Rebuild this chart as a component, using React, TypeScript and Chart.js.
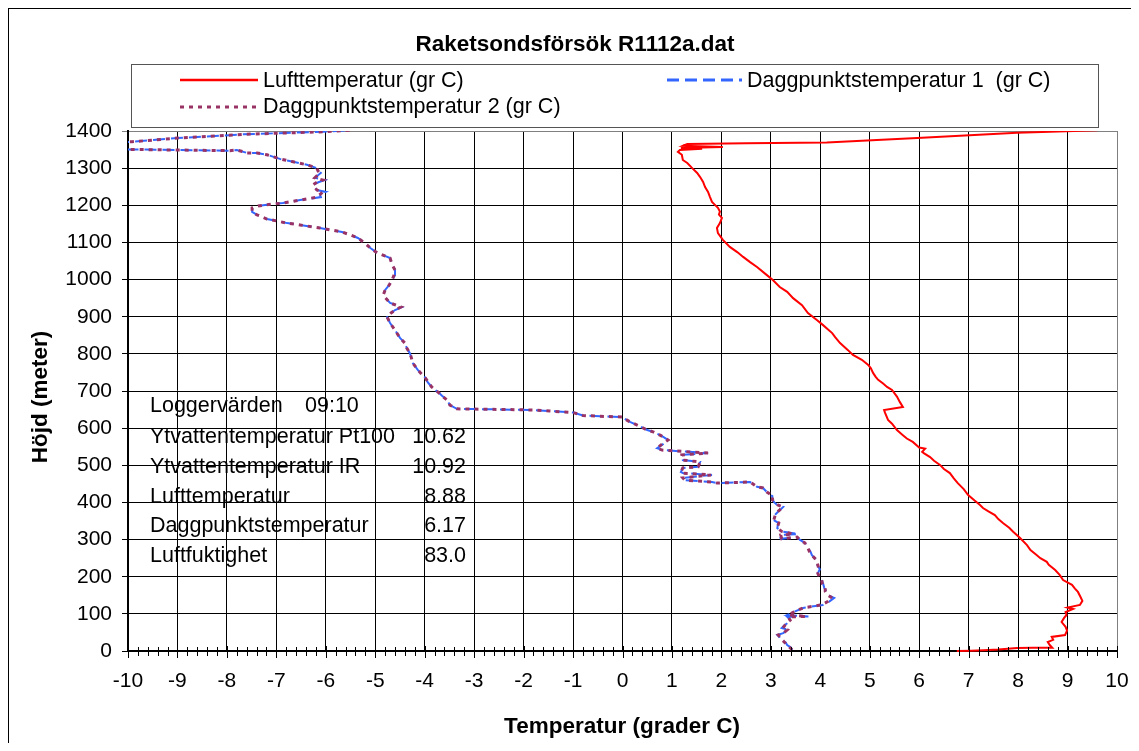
import { useEffect, useRef } from 'react';
import { Chart, registerables } from 'chart.js';

Chart.register(...registerables);

const FONT = "'Liberation Sans', Arial, sans-serif";

const chartTitle = 'Raketsondsförsök R1112a.dat';
const xAxisTitle = 'Temperatur (grader C)';
const yAxisTitle = 'Höjd (meter)';
const seriesNames = ['Lufttemperatur (gr C)', 'Daggpunktstemperatur 1  (gr C)', 'Daggpunktstemperatur 2 (gr C)'];

const loggerHeading = 'Loggervärden';
const loggerTime = '09:10';
const loggerLabels = ['Ytvattentemperatur Pt100', 'Ytvattentemperatur IR', 'Lufttemperatur', 'Daggpunktstemperatur', 'Luftfuktighet'];
const loggerValues = ['10.62', '10.92', '8.88', '6.17', '83.0'];

// Air temperature profile (height in m, temperature in °C)
const airHeight = [
  0, 1, 2, 4, 8, 9, 9, 16, 24, 30,
  38, 43, 55, 65, 78, 89, 97, 105, 113, 117,
  124, 135, 146, 159, 168, 178, 191, 205, 218, 232,
  240, 250, 258, 272, 285, 304, 321, 332, 344, 355,
  366, 376, 385, 393, 405, 420, 436, 452, 465, 479,
  490, 501, 512, 522, 532, 536, 545, 548, 563, 572,
  581, 595, 612, 622, 641, 649, 657, 670, 685, 703,
  711, 720, 730, 738, 748, 762, 770, 784, 797, 810,
  829, 845, 856, 878, 891, 910, 931, 950, 967, 980,
  999, 1012, 1034, 1047, 1061, 1074, 1088, 1107, 1125, 1139,
  1152, 1166, 1175, 1183, 1193, 1201, 1209, 1222, 1236, 1249,
  1263, 1276, 1287, 1300, 1314, 1322, 1336, 1344, 1349, 1352,
  1354, 1357, 1360, 1365, 1367, 1369, 1381, 1395, 1398, 1402,
];
const airTemp = [
  6.76, 7.05, 7.30, 7.60, 7.98, 8.30, 8.69, 8.64, 8.60, 8.71,
  8.68, 8.95, 8.99, 8.96, 8.88, 8.93, 8.98, 8.96, 9.11, 9.00,
  9.25, 9.30, 9.26, 9.21, 9.15, 9.09, 8.91, 8.84, 8.75, 8.62,
  8.58, 8.45, 8.38, 8.25, 8.18, 8.04, 7.90, 7.82, 7.70, 7.60,
  7.53, 7.40, 7.29, 7.23, 7.12, 6.99, 6.90, 6.78, 6.70, 6.62,
  6.50, 6.42, 6.30, 6.22, 6.10, 6.06, 6.12, 6.00, 5.87, 5.75,
  5.67, 5.55, 5.45, 5.37, 5.31, 5.29, 5.67, 5.61, 5.55, 5.45,
  5.35, 5.27, 5.17, 5.12, 5.07, 5.02, 4.97, 4.84, 4.66, 4.56,
  4.40, 4.30, 4.24, 4.05, 3.93, 3.75, 3.63, 3.45, 3.33, 3.18,
  3.04, 2.92, 2.72, 2.58, 2.44, 2.32, 2.17, 2.03, 1.93, 1.91,
  1.97, 2.01, 1.95, 1.97, 1.93, 1.87, 1.81, 1.77, 1.73, 1.67,
  1.63, 1.57, 1.51, 1.41, 1.31, 1.22, 1.20, 1.12, 1.16, 1.61,
  1.18, 2.03, 1.22, 1.31, 2.50, 4.13, 5.96, 7.98, 8.65, 9.60,
];

// Dew point profiles from the two sensors (shared height samples)
const dewHeight = [
  3, 10, 16, 23, 30, 38, 43, 48, 57, 62,
  70, 77, 83, 92, 93, 97, 104, 110, 116, 124,
  133, 143, 151, 160, 170, 180, 191, 200, 209, 220,
  232, 245, 258, 268, 277, 285, 291, 299, 307, 302,
  312, 315, 322, 331, 345, 353, 366, 374, 380, 388,
  393, 400, 407, 417, 428, 439, 442, 455, 452, 455,
  460, 466, 474, 479, 482, 493, 496, 509, 514, 528,
  533, 541, 546, 557, 568, 575, 581, 590, 595, 605,
  617, 624, 630, 632, 634, 642, 646, 649, 652, 662,
  676, 687, 697, 711, 724, 738, 748, 757, 775, 790,
  802, 815, 829, 843, 864, 883, 899, 910, 918, 926,
  937, 958, 972, 985, 999, 1012, 1026, 1040, 1058, 1072,
  1085, 1098, 1112, 1120, 1128, 1139, 1147, 1152, 1163, 1174,
  1182, 1193, 1198, 1201, 1206, 1214, 1222, 1229, 1236, 1241,
  1255, 1262, 1268, 1274, 1287, 1293, 1300, 1309, 1317, 1325,
  1336, 1341, 1341, 1349, 1347, 1351, 1369, 1371, 1381, 1391,
  1398, 1402,
];
const dew1Temp = [
  3.43, 3.40, 3.33, 3.30, 3.20, 3.17, 3.13, 3.25, 3.35, 3.22,
  3.28, 3.36, 3.40, 3.33, 3.76, 3.33, 3.45, 3.55, 3.65, 4.05,
  4.18, 4.28, 4.14, 4.12, 4.08, 4.06, 4.03, 3.97, 3.95, 3.99,
  3.94, 3.93, 3.83, 3.80, 3.75, 3.72, 3.69, 3.59, 3.53, 3.20,
  3.18, 3.56, 3.20, 3.13, 3.15, 3.05, 3.08, 3.14, 3.19, 3.25,
  3.13, 3.07, 3.03, 3.03, 2.92, 2.84, 2.72, 2.58, 1.91, 1.81,
  1.26, 1.22, 1.81, 1.22, 1.18, 1.22, 1.53, 1.57, 1.22, 1.20,
  1.73, 0.80, 0.70, 0.82, 0.92, 0.84, 0.76, 0.62, 0.50, 0.35,
  0.15, 0.06, 0.00, -0.45, -0.80, -1.00, -1.47, -1.81, -3.35, -3.49,
  -3.55, -3.65, -3.73, -3.86, -3.94, -4.00, -4.08, -4.14, -4.24, -4.27,
  -4.30, -4.36, -4.40, -4.50, -4.60, -4.70, -4.76, -4.68, -4.60, -4.46,
  -4.70, -4.84, -4.80, -4.72, -4.66, -4.60, -4.60, -4.66, -4.70, -4.96,
  -5.10, -5.21, -5.35, -5.50, -5.67, -6.12, -6.52, -6.78, -7.19, -7.39,
  -7.49, -7.49, -7.37, -7.23, -6.87, -6.52, -6.10, -6.12, -6.00, -6.18,
  -6.26, -6.15, -6.02, -6.22, -6.10, -6.14, -6.18, -6.38, -6.66, -6.93,
  -7.19, -7.39, -7.59, -7.80, -7.94, -10.30, -10.30, -9.92, -9.00, -7.67,
  -6.06, -5.50,
];
const dew2Temp = [
  3.43, 3.38, 3.33, 3.28, 3.23, 3.18, 3.15, 3.25, 3.33, 3.24,
  3.29, 3.34, 3.39, 3.35, 3.72, 3.35, 3.45, 3.55, 3.65, 4.02,
  4.15, 4.24, 4.14, 4.10, 4.10, 4.04, 4.03, 3.98, 3.95, 3.97,
  3.95, 3.92, 3.83, 3.78, 3.75, 3.70, 3.69, 3.59, 3.53, 3.22,
  3.20, 3.45, 3.22, 3.13, 3.16, 3.06, 3.09, 3.13, 3.18, 3.24,
  3.14, 3.08, 3.03, 3.04, 2.92, 2.84, 2.72, 2.58, 1.91, 1.81,
  1.26, 1.22, 1.79, 1.22, 1.18, 1.22, 1.53, 1.57, 1.22, 1.20,
  1.73, 0.80, 0.70, 0.80, 0.92, 0.84, 0.76, 0.62, 0.50, 0.35,
  0.15, 0.06, 0.00, -0.45, -0.80, -1.00, -1.47, -1.81, -3.35, -3.49,
  -3.55, -3.65, -3.73, -3.86, -3.93, -4.00, -4.08, -4.14, -4.24, -4.27,
  -4.30, -4.36, -4.40, -4.50, -4.60, -4.70, -4.76, -4.68, -4.60, -4.48,
  -4.70, -4.84, -4.80, -4.72, -4.66, -4.62, -4.60, -4.66, -4.70, -4.96,
  -5.10, -5.21, -5.35, -5.50, -5.67, -6.12, -6.52, -6.78, -7.19, -7.39,
  -7.49, -7.49, -7.37, -7.23, -6.87, -6.52, -6.18, -6.12, -6.06, -6.18,
  -6.26, -6.18, -6.06, -6.22, -6.12, -6.16, -6.18, -6.38, -6.66, -6.93,
  -7.19, -7.39, -7.59, -7.80, -7.94, -10.30, -10.30, -9.92, -9.00, -7.67,
  -6.06, -5.50,
];

const X_MIN = -10;
const X_MAX = 10;
const Y_MIN = 0;
const Y_MAX = 1400;

const RED = '#FF0000';
const BLUE = '#3366FF';
const PLUM = '#993366';
const BLUE_DASH = [12, 6];
const PLUM_DASH = [4, 5];

const toPoints = (heights: number[], temps: number[]) =>
  heights.map((h, i) => ({ x: temps[i], y: h }));

const decorations = {
  id: 'decorations',
  afterDraw(chart: any) {
    const { ctx, chartArea: area } = chart;
    const xs = chart.scales.x;
    ctx.save();

    // Cross ticks on the x axis (major at whole degrees, minor every 0.2)
    ctx.strokeStyle = '#000';
    ctx.lineWidth = 1;
    ctx.setLineDash([]);
    for (let i = X_MIN * 5; i <= X_MAX * 5; i++) {
      const px = Math.round(xs.getPixelForValue(i / 5)) + 0.5;
      const major = i % 5 === 0;
      ctx.beginPath();
      ctx.moveTo(px, area.bottom - (major ? 5 : 4));
      ctx.lineTo(px, area.bottom + (major ? 7 : 5));
      ctx.stroke();
    }

    ctx.fillStyle = '#000';
    ctx.textBaseline = 'alphabetic';

    // Title
    ctx.font = `bold 22.5px ${FONT}`;
    ctx.textAlign = 'center';
    ctx.fillText(chartTitle, 566, 42);

    // Legend box
    ctx.strokeStyle = '#555';
    ctx.lineWidth = 1;
    ctx.strokeRect(122.5, 55.5, 967, 63);

    const sample = (x0: number, x1: number, y: number, color: string, width: number, dash: number[]) => {
      ctx.beginPath();
      ctx.strokeStyle = color;
      ctx.lineWidth = width;
      ctx.setLineDash(dash);
      ctx.moveTo(x0, y);
      ctx.lineTo(x1, y);
      ctx.stroke();
    };
    sample(171, 249, 71, RED, 2.5, []);
    sample(658, 733, 71, BLUE, 3, BLUE_DASH);
    sample(171, 249, 98, PLUM, 3, PLUM_DASH);
    ctx.setLineDash([]);

    ctx.font = `21.5px ${FONT}`;
    ctx.textAlign = 'left';
    ctx.fillText(seriesNames[0], 254, 78);
    ctx.fillText(seriesNames[1], 738, 78);
    ctx.fillText(seriesNames[2], 254, 104);

    // Logger readings
    ctx.fillText(loggerHeading, 141, 403);
    ctx.fillText(loggerTime, 296, 403);
    const rowBase = [434, 464, 494, 523, 553];
    loggerLabels.forEach((label, i) => {
      ctx.textAlign = 'left';
      ctx.fillText(label, 141, rowBase[i]);
      ctx.textAlign = 'right';
      ctx.fillText(loggerValues[i], 457, rowBase[i]);
    });

    // Axis titles
    ctx.font = `bold 22.5px ${FONT}`;
    ctx.textAlign = 'center';
    ctx.fillText(xAxisTitle, 613, 724);
    ctx.translate(38, 388);
    ctx.rotate(-Math.PI / 2);
    ctx.fillText(yAxisTitle, 0, 0);

    ctx.restore();
  },
};

export default function App() {
  const canvasRef = useRef<HTMLCanvasElement | null>(null);

  useEffect(() => {
    const canvas = canvasRef.current;
    if (!canvas) return;
    const clip = { left: 0, top: 0, right: 0, bottom: 3 };
    const chart = new Chart(canvas, {
      type: 'scatter',
      data: {
        datasets: [
          {
            label: seriesNames[0],
            data: toPoints(airHeight, airTemp),
            showLine: true,
            borderColor: RED,
            backgroundColor: RED,
            borderWidth: 2,
            pointRadius: 0,
            tension: 0,
            clip,
          },
          {
            label: seriesNames[2],
            data: toPoints(dewHeight, dew2Temp),
            showLine: true,
            borderColor: PLUM,
            backgroundColor: PLUM,
            borderWidth: 3,
            borderDash: PLUM_DASH,
            pointRadius: 0,
            tension: 0,
            clip,
          },
          {
            label: seriesNames[1],
            data: toPoints(dewHeight, dew1Temp),
            showLine: true,
            borderColor: BLUE,
            backgroundColor: BLUE,
            borderWidth: 2,
            borderDash: BLUE_DASH,
            pointRadius: 0,
            tension: 0,
            clip,
          },
        ],
      } as any,
      options: {
        animation: false,
        responsive: false,
        events: [],
        layout: { padding: { top: 122, right: 14, left: 0, bottom: 0 } },
        plugins: {
          legend: { display: false },
          title: { display: false },
          tooltip: { enabled: false },
        },
        scales: {
          x: {
            type: 'linear',
            min: X_MIN,
            max: X_MAX,
            ticks: {
              stepSize: 1,
              autoSkip: false,
              maxRotation: 0,
              padding: 18,
              color: '#000',
              font: { family: FONT, size: 21 },
              callback: (v: any) => String(v),
            },
            grid: {
              drawTicks: false,
              lineWidth: 1,
              color: (c: any) => (c.tick && c.tick.value === X_MAX ? '#808080' : '#000'),
            },
            border: { display: true, color: '#000', width: 2 },
            afterFit: (s: any) => {
              s.height = 92;
              s.paddingLeft = 0;
              s.paddingRight = 0;
            },
          },
          y: {
            type: 'linear',
            min: Y_MIN,
            max: Y_MAX,
            ticks: {
              stepSize: 100,
              autoSkip: false,
              padding: 10,
              color: '#000',
              font: { family: FONT, size: 21 },
              callback: (v: any) => String(v),
            },
            grid: {
              drawTicks: true,
              tickLength: 6,
              lineWidth: 1,
              color: (c: any) => (c.tick && c.tick.value === Y_MAX ? '#808080' : '#000'),
            },
            border: { display: true, color: '#000', width: 2 },
            afterFit: (s: any) => {
              s.width = 119;
              s.paddingTop = 0;
              s.paddingBottom = 0;
            },
          },
        },
      } as any,
      plugins: [decorations],
    });
    return () => chart.destroy();
  }, []);

  return (
    <div
      style={{
        borderLeft: '1px solid #000',
        borderTop: '1px solid #000',
        width: 1122,
        height: 734,
        overflow: 'hidden',
        background: '#fff',
      }}
    >
      <canvas ref={canvasRef} width={1122} height={734} style={{ display: 'block' }} />
    </div>
  );
}
